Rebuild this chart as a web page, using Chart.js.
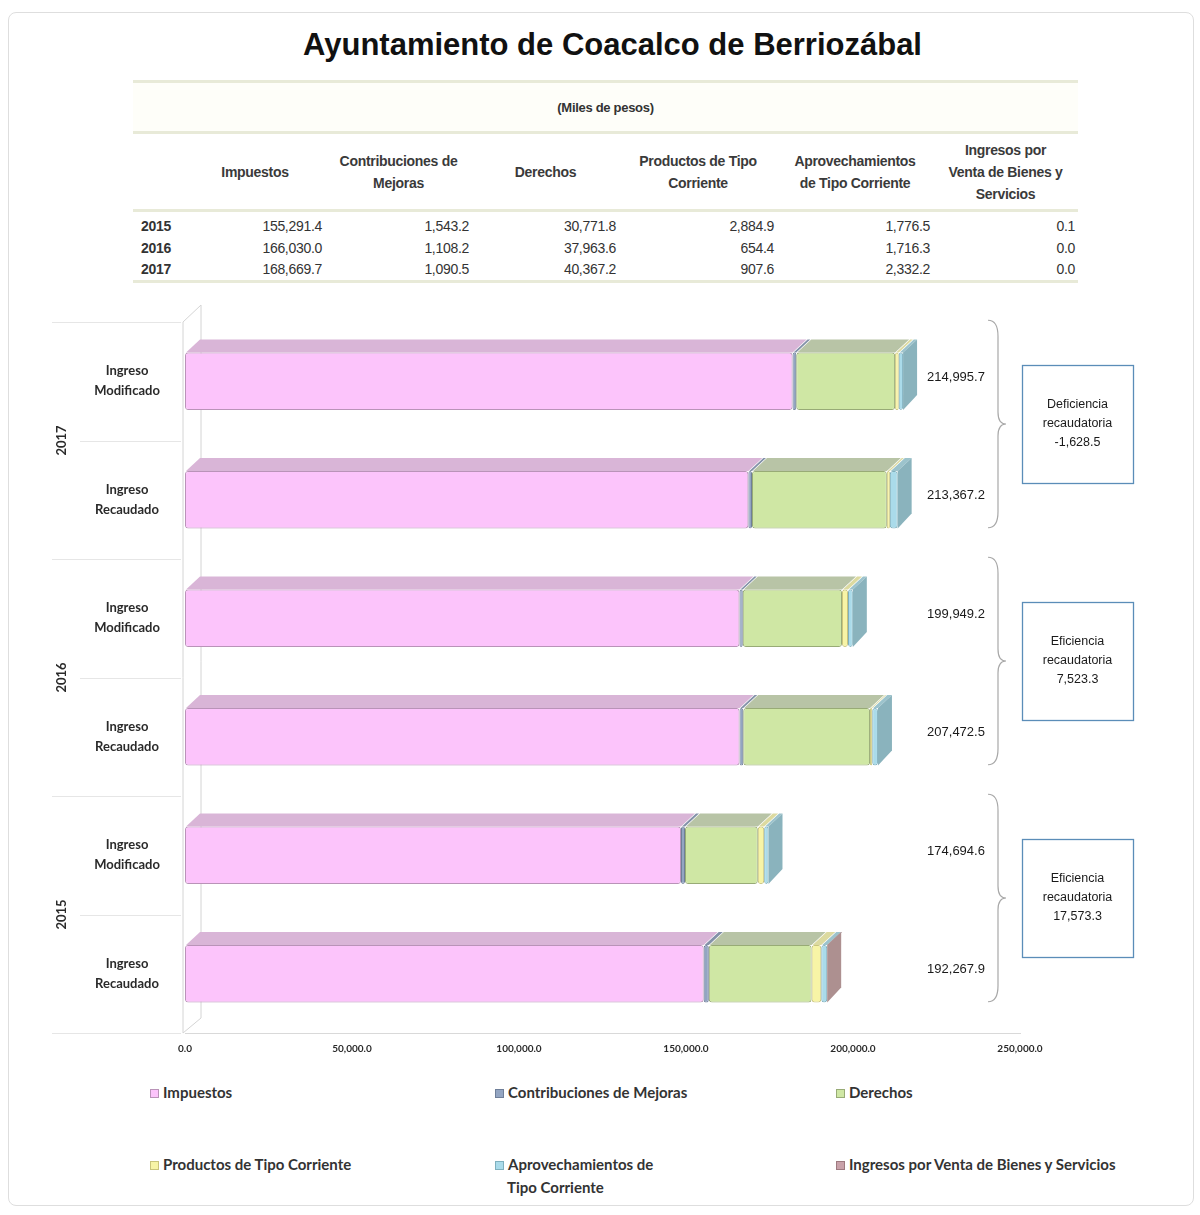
<!DOCTYPE html>
<html>
<head>
<meta charset="utf-8">
<script src="https://cdn.jsdelivr.net/npm/chart.js@4"></script>
<style>
  body { margin: 0; background: #fff; }
  #page { position: relative; width: 1200px; height: 1215px; overflow: hidden; background: #fff; }
  #frame { position: absolute; left: 8px; top: 12px; width: 1184px; height: 1192px; border: 1px solid #dedede; border-radius: 8px; }
  #title { position: absolute; left: 0; width: 1225px; top: 27px; text-align: center; font: bold 31px "Liberation Sans", Arial, sans-serif; color: #111; }
  #tabla { position: absolute; left: 133px; top: 80px; width: 945px; border-collapse: collapse; font-family: "Liberation Sans", Arial, sans-serif; color: #333; letter-spacing: -0.3px; }
  #tabla td { padding: 0; }
  #tabla .miles td { height: 48px; border-top: 3px solid #e8ead8; border-bottom: 3px solid #e8ead8; text-align: center; font-weight: bold; font-size: 13px; background: #fefef9; }
  #tabla .head td { height: 75px; border-bottom: 3px solid #e8ead8; text-align: center; font-weight: bold; font-size: 14px; line-height: 22px; color: #3a3a3a; }
  #tabla .row td { height: 21px; font-size: 14px; text-align: right; line-height: 21px; }
  #tabla .row td.yr { text-align: left; font-weight: bold; padding-left: 8px; }
  #tabla .row.first td { height: 24px; padding-top: 2px; }
  #tabla .row.last td { border-bottom: 3px solid #e8ead8; }
  #chart { position: absolute; left: 0; top: 300px; }
  .leg { position: absolute; font: bold 15px Lato, "Open Sans", sans-serif; color: #333; line-height: 23px; }
  .leg i { display: inline-block; width: 7px; height: 7px; margin-right: 4px; border: 1px solid #888; vertical-align: 0px; }
</style>
</head>
<body>
<div id="page">
  <div id="frame"></div>
  <div id="title">Ayuntamiento de Coacalco de Berriozábal</div>
  <table id="tabla"></table>
  <canvas id="chart" width="1200" height="763"></canvas>
  <div id="legend"></div>
</div>
<script>
// Rubros de ingreso (series)
const seriesNames = ['Impuestos', 'Contribuciones de Mejoras', 'Derechos', 'Productos de Tipo Corriente', 'Aprovechamientos de Tipo Corriente', 'Ingresos por Venta de Bienes y Servicios'];
const tableHeaders = ['Impuestos', 'Contribuciones de<br>Mejoras', 'Derechos', 'Productos de Tipo<br>Corriente', 'Aprovechamientos<br>de Tipo Corriente', 'Ingresos por<br>Venta de Bienes y<br>Servicios'];

// Miles de pesos, en el orden de seriesNames
const recaudado2015 = [155291.4, 1543.2, 30771.8, 2884.9, 1776.5, 0.1];
const recaudado2016 = [166030.0, 1108.2, 37963.6, 654.4, 1716.3, 0.0];
const recaudado2017 = [168669.7, 1090.5, 40367.2, 907.6, 2332.2, 0.0];
const modificado2015 = [148500.0, 1200.0, 21800.0, 1900.0, 1294.6, 0.0];
const modificado2016 = [166000.0, 1000.0, 29700.0, 1800.0, 1449.2, 0.0];
const modificado2017 = [181900.0, 1100.0, 29600.0, 1100.0, 1295.7, 0.0];

const years = ['2017', '2016', '2015'];
const rowLabels = [['Ingreso', 'Modificado'], ['Ingreso', 'Recaudado']];
const xTicks = [0, 50000, 100000, 150000, 200000, 250000];

// Colores: cara frontal, superior, lateral, borde
const frontColors = ['#fcc4fb', '#93a5c2', '#cfe7a4', '#f7f4a6', '#aadbea', '#c9a2aa'];
const topColors = ['#d9b5d7', '#8391a8', '#b8c4a6', '#dcdaa0', '#9cc3cc', '#b49a9e'];
const sideColors = ['#d2a6d0', '#7d8aa2', '#a8b592', '#cfcd90', '#8ab3bd', '#ad9090'];
const borderColors = ['#b993b8', '#6f7f99', '#98ab76', '#c9c47c', '#7fb0be', '#9e7a80'];

const fmt = v => v.toLocaleString('en-US', { minimumFractionDigits: 1, maximumFractionDigits: 1 });
const sum = a => a.reduce((s, v) => s + v, 0);

// Tabla superior
const tableRows = [['2015', recaudado2015], ['2016', recaudado2016], ['2017', recaudado2017]];
let html = '<tr class="miles"><td colspan="7">(Miles de pesos)</td></tr>';
html += '<tr class="head"><td style="width:52px"></td>' + tableHeaders.map((h, i) =>
  `<td style="width:${[140, 147, 147, 158, 156, 145][i]}px">${h}</td>`).join('') + '</tr>';
tableRows.forEach(([y, vals], r) => {
  html += `<tr class="row${r === 0 ? ' first' : ''}${r === 2 ? ' last' : ''}"><td class="yr">${y}</td>` +
    vals.map(v => `<td style="padding-right:3px">${fmt(v)}</td>`).join('') + '</tr>';
});
document.getElementById('tabla').innerHTML = html;

// Filas de la grafica (de arriba hacia abajo)
const rows = [modificado2017, recaudado2017, modificado2016, recaudado2016, modificado2015, recaudado2015];
const labels = rows.map((r, i) => rowLabels[i % 2]);
const totals = rows.map(sum);
const diffs = [0, 1, 2].map(g => totals[g * 2 + 1] - totals[g * 2]);

const datasets = seriesNames.map((name, s) => ({
  label: name,
  data: rows.map(r => r[s]),
  backgroundColor: frontColors[s],
  borderColor: borderColors[s],
  borderWidth: 1,
  borderSkipped: false,
  borderRadius: { topLeft: 3, topRight: 3, bottomLeft: 3, bottomRight: 3 }
}));

const DX = 14, DY = 13;

// Caras superiores / laterales para el efecto 3D, etiquetas y llaves
const decorations = {
  id: 'decorations',
  beforeDatasetsDraw(chart) {
    const { ctx, chartArea } = chart;
    ctx.save();
    ctx.strokeStyle = '#d4d4d4';
    ctx.lineWidth = 1;
    ctx.beginPath();
    ctx.moveTo(chartArea.left - 2, chartArea.bottom);
    ctx.lineTo(chartArea.left - 2, chartArea.top);
    ctx.lineTo(chartArea.left + 16, chartArea.top - 17);
    ctx.moveTo(chartArea.left + 16, chartArea.top - 17);
    ctx.lineTo(chartArea.left + 16, chartArea.bottom - 15);
    ctx.lineTo(chartArea.left - 2, chartArea.bottom);
    ctx.stroke();
    ctx.restore();
  },
  afterDatasetsDraw(chart) {
    const { ctx, chartArea } = chart;
    const metas = chart.data.datasets.map((d, i) => chart.getDatasetMeta(i));
    ctx.save();
    rows.forEach((r, j) => {
      let last = -1;
      metas.forEach((m, s) => {
        const el = m.data[j];
        if (r[s] <= 0) return;
        last = s;
        const top = el.y - el.height / 2;
        ctx.beginPath();
        ctx.moveTo(el.base + 1, top);
        ctx.lineTo(el.base + 1 + DX, top - DY);
        ctx.lineTo(el.x + DX, top - DY);
        ctx.lineTo(el.x, top);
        ctx.closePath();
        ctx.fillStyle = topColors[s];
        ctx.fill();
      });
      if (last >= 0) {
        const el = metas[last].data[j];
        const top = el.y - el.height / 2, bottom = el.y + el.height / 2;
        ctx.beginPath();
        ctx.moveTo(el.x, top);
        ctx.lineTo(el.x + DX, top - DY);
        ctx.lineTo(el.x + DX, bottom - DY - 2);
        ctx.lineTo(el.x, bottom);
        ctx.closePath();
        ctx.fillStyle = sideColors[last];
        ctx.fill();
      }
    });

    // Etiquetas de categoria
    const y = chart.scales.y;
    const step = (chartArea.bottom - chartArea.top) / rows.length;
    ctx.fillStyle = '#2a2a2a';
    ctx.textAlign = 'center';
    ctx.textBaseline = 'middle';
    ctx.font = 'bold 13px Lato, sans-serif';
    labels.forEach((lab, j) => {
      const cy = y.getPixelForValue(j);
      ctx.fillText(lab[0], 127, cy - 10);
      ctx.fillText(lab[1], 127, cy + 10);
    });
    ctx.strokeStyle = '#e6e6e6';
    ctx.beginPath();
    for (let j = 0; j <= rows.length; j++) {
      const ly = Math.round(chartArea.top + j * step) + 0.5;
      ctx.moveTo(j % 2 === 0 ? 52 : 80, ly);
      ctx.lineTo(chartArea.left - 4, ly);
    }
    ctx.stroke();
    years.forEach((yr, g) => {
      const cy = chartArea.top + (g * 2 + 1) * step;
      ctx.save();
      ctx.translate(62, cy);
      ctx.rotate(-Math.PI / 2);
      ctx.fillText(yr, 0, 0);
      ctx.restore();
    });

    // Totales
    ctx.font = '13px "Liberation Sans", Arial, sans-serif';
    ctx.fillStyle = '#1a1a1a';
    totals.forEach((t, j) => {
      ctx.fillText(fmt(t), chartArea.right - 64, y.getPixelForValue(j) - 4);
    });

    // Llaves y recuadros
    years.forEach((yr, g) => {
      const y1 = y.getPixelForValue(g * 2) - 61;
      const y2 = y.getPixelForValue(g * 2 + 1) + 28;
      const ym = (y1 + y2) / 2;
      const x = chartArea.right - 32, w = 10;
      ctx.strokeStyle = '#a8a8a8';
      ctx.lineWidth = 1.2;
      ctx.beginPath();
      ctx.moveTo(x, y1);
      ctx.quadraticCurveTo(x + w, y1, x + w, y1 + 16);
      ctx.lineTo(x + w, ym - 12);
      ctx.quadraticCurveTo(x + w, ym, x + w + 8, ym);
      ctx.quadraticCurveTo(x + w, ym, x + w, ym + 12);
      ctx.lineTo(x + w, y2 - 16);
      ctx.quadraticCurveTo(x + w, y2, x, y2);
      ctx.stroke();

      const bx = chartArea.right + 2, bw = 111, bh = 118;
      ctx.strokeStyle = '#5b8db8';
      ctx.lineWidth = 1.3;
      ctx.strokeRect(bx + 0.5, ym - bh / 2 + 0.5, bw, bh);
      ctx.fillStyle = '#1a1a1a';
      ctx.font = '12.5px "Liberation Sans", Arial, sans-serif';
      const d = diffs[g];
      const lines = [d < 0 ? 'Deficiencia' : 'Eficiencia', 'recaudatoria', fmt(d)];
      lines.forEach((l, k) => ctx.fillText(l, bx + bw / 2, ym - 19 + k * 19));
    });
    ctx.restore();
  }
};

new Chart(document.getElementById('chart'), {
  type: 'bar',
  data: { labels, datasets },
  options: {
    indexAxis: 'y',
    responsive: false,
    animation: false,
    layout: { padding: { left: 185, right: 180, top: 22, bottom: 0 } },
    datasets: { bar: { categoryPercentage: 1, barPercentage: 0.485 } },
    plugins: { legend: { display: false }, tooltip: { enabled: false } },
    scales: {
      x: {
        stacked: true,
        min: xTicks[0],
        max: xTicks[xTicks.length - 1],
        afterBuildTicks: s => { s.ticks = xTicks.map(v => ({ value: v })); },
        ticks: { callback: v => fmt(v), font: { family: 'Lato', size: 10, weight: 'bold' }, color: '#2a2a2a', padding: 10 },
        grid: { display: false, drawTicks: false },
        border: { color: '#d9d9d9' },
        afterFit: s => { s.height = 30; }
      },
      y: {
        stacked: true,
        ticks: { display: false },
        grid: { display: false },
        border: { display: false },
        afterFit: s => { s.width = 0; }
      }
    }
  },
  plugins: [decorations]
});

// Leyenda
const legendPos = [[150, 1081], [495, 1081], [836, 1081], [150, 1153], [495, 1153], [836, 1153]];
document.getElementById('legend').innerHTML = seriesNames.map((n, i) => {
  const text = i === 4 ? 'Aprovechamientos de<br><span style="padding-left:12px">Tipo Corriente</span>' : n;
  return `<div class="leg" style="left:${legendPos[i][0]}px;top:${legendPos[i][1]}px"><i style="background:${frontColors[i]};border-color:${borderColors[i]}"></i>${text}</div>`;
}).join('');
</script>
</body>
</html>
